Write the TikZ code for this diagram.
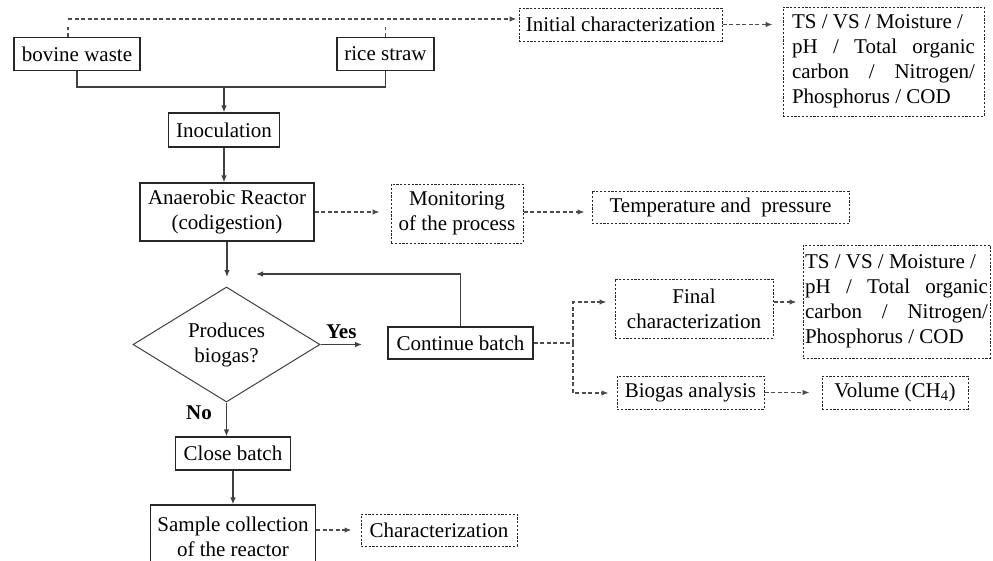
\documentclass[tikz,border=0pt]{standalone}
\usepackage{fontspec}
\setmainfont{Liberation Serif}
\usetikzlibrary{shapes.geometric,arrows.meta}
\newcommand{\spread}[1]{\makebox[183pt][s]{#1}}

\begin{document}
\begin{tikzpicture}[x=1pt,y=-1pt,font=\fontsize{21}{25}\selectfont]
\tikzstyle{box}=[draw=black!85, line width=1.2pt, inner sep=0pt, minimum height=33, align=flush center]
\tikzstyle{dbox}=[box, line width=1pt, dash pattern=on 2.2pt off 1.6pt]
\tikzstyle{decision}=[draw=black!75, line width=1pt, diamond, aspect=1.63, inner sep=0pt, minimum width=187, minimum height=115, align=flush center]
\tikzstyle{line}=[draw=black!75, line width=1.2pt]
\tikzstyle{arr}=[line, -{Latex[length=7pt,width=5.5pt]}]
\tikzstyle{darr}=[arr, draw=black!70, dash pattern=on 4pt off 2.5pt, shorten >=8pt]
\tikzstyle{tsbox}=[dbox, text width=183pt, align=flush left, inner xsep=9pt, inner ysep=0pt]

\useasboundingbox (0,0) rectangle (993,560);

\draw (77,54) node[box, minimum width=126] (bovine) {bovine waste};
\draw (385.5,54) node[box, minimum width=97] (rice) {rice straw};
\draw (224,130) node[box, minimum width=111, minimum height=34] (inoc) {Inoculation};
\draw (227,212) node[box, minimum width=174, minimum height=58] (react) {Anaerobic Reactor\\(codigestion)};
\draw (457,213.5) node[dbox, minimum width=132, minimum height=59] (monitor) {Monitoring\\of the process};
\draw (720.5,207) node[dbox, minimum width=257, minimum height=32] (temp) {Temperature and\ \ pressure};
\draw (620.5,24.5) node[dbox, minimum width=203] (init) {Initial characterization};
\draw (883.5,61.5) node[tsbox, minimum height=109] (ts1) {TS / VS / Moisture /\\\spread{pH / Total organic}\\\spread{carbon / Nitrogen/}\\Phosphorus / COD};
\draw (226.5,344.5) node[decision] (dec) {Produces\\biogas?};
\draw (460.5,343) node[box, minimum width=145, minimum height=32] (cont) {Continue batch};
\draw (694,308.5) node[dbox, minimum width=158, minimum height=59] (final) {Final\\characterization};
\draw (896.5,301.5) node[tsbox, inner xsep=2pt, minimum height=113] (ts2) {TS / VS / Moisture /\\\spread{pH / Total organic}\\\spread{carbon / Nitrogen/}\\Phosphorus / COD};
\draw (690.5,392.5) node[dbox, minimum width=147] (biogas) {Biogas analysis};
\draw (895,392.5) node[dbox, minimum width=146] (volume) {Volume (CH\textsubscript{4})};
\draw (233,453.5) node[box, minimum width=115] (close) {Close batch};
\draw (233,537) node[box, minimum width=165, minimum height=64] (sample) {Sample collection\\of the reactor};
\draw (439,530) node[dbox, minimum width=156, minimum height=32] (charact) {Characterization};

\coordinate (merge) at (224,87);
\coordinate (topleft) at (68,19);
\coordinate (join) at (227,277);
\coordinate (back) at (256,274);
\coordinate (yes) at (362,344.5);
\coordinate (split) at (573,343);
\coordinate (splittop) at (573,302);
\coordinate (splitbot) at (573,393);

% inputs
\draw[line] (bovine.south) |- (merge) -| (rice.south);
\draw[arr] (merge) -- (inoc.north);
\draw[darr, -] (topleft |- bovine.north) -- (topleft);
\draw[darr, -] (rice.north) -- (rice.north |- topleft);
\draw[darr, shorten >=2pt] (topleft) -- (init.west |- topleft);
\draw[darr, shorten >=10pt] (init.east) -- (init.east -| ts1.west);

% reactor
\draw[arr] (inoc.south) -- (inoc.south |- react.north);
\draw[darr, shorten >=11pt] (react.east) -- (react.east -| monitor.west);
\draw[darr, shorten >=7pt] (monitor.east |- react.east) -- (react.east -| temp.west);
\draw[arr] (react.south) -- (join);

% decision
\draw[arr] (dec.east) -- (yes) node[midway, above, inner sep=5pt] {\textbf{Yes}};
\draw[arr] (cont.north) |- (back);
\draw[arr] (dec.south) -- (dec.south |- close.north) node[pos=0.3, left=12pt, inner sep=2pt] {\textbf{No}};
\draw[arr] (close.south) -- (sample.north);
\draw[darr, shorten >=9pt] (charact.west -| sample.east) -- (charact.west);

% continue batch
\draw[darr, -, shorten >=0pt] (cont.east) -- (split);
\draw[darr] (split) |- (splittop -| final.west);
\draw[darr] (split) |- (splitbot -| biogas.west);
\draw[darr, shorten >=6pt] (splittop -| final.east) -- (splittop -| ts2.west);
\draw[darr, shorten >=12pt] (biogas.east) -- (volume.west);
\end{tikzpicture}
\end{document}
